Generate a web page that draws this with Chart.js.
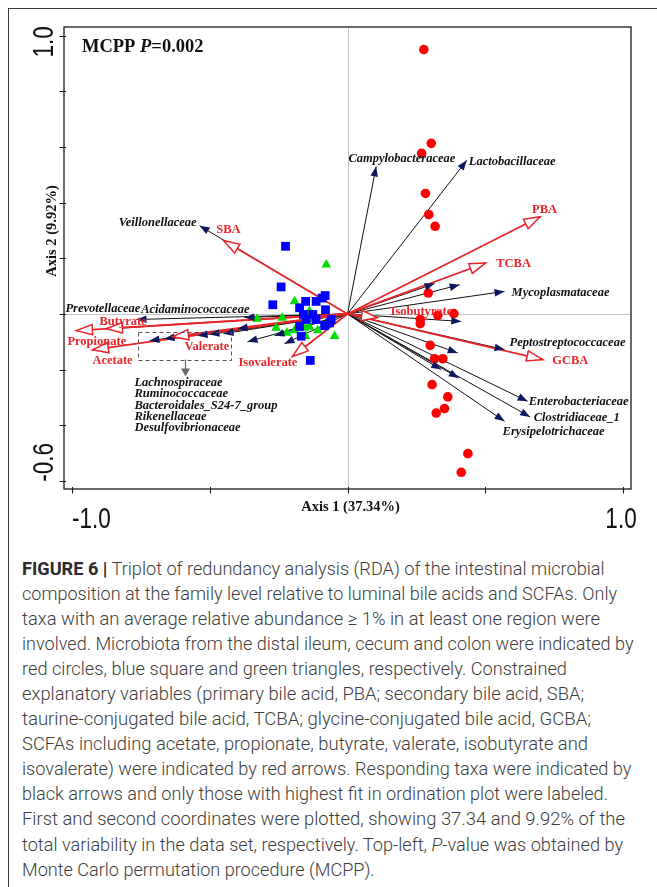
<!DOCTYPE html>
<html><head><meta charset="utf-8">
<script src="https://cdn.jsdelivr.net/npm/chart.js@4.4.1/dist/chart.umd.min.js"></script>
<style>
html,body{margin:0;padding:0;background:#fff;}
body{width:657px;height:887px;position:relative;overflow:hidden;}
#frame{position:absolute;left:8px;top:8px;right:-2px;bottom:-2px;border-left:1px solid #3a3a3a;border-top:1px solid #3a3a3a;}
#wrap{position:absolute;left:0;top:0;width:657px;height:540px;}
#caption{position:absolute;left:22px;top:555.5px;font-family:Roboto,'Liberation Sans',Arial,sans-serif;font-weight:300;font-size:18px;color:#3d3d3d;}
#caption .ln{height:25.1px;line-height:25.1px;white-space:nowrap;}
#caption .ln span{display:inline-block;transform-origin:0 50%;}
#caption b{font-weight:700;color:#2a2a2a;}
</style></head>
<body>
<div id="frame"></div>
<div id="wrap"><canvas id="c" width="657" height="540"></canvas></div>
<div id="caption">
<div class="ln" data-r="604.6"><span><b>FIGURE 6 |</b> Triplot of redundancy analysis (RDA) of the intestinal microbial</span></div>
<div class="ln" data-r="617"><span>composition at the family level relative to luminal bile acids and SCFAs. Only</span></div>
<div class="ln" data-r="600"><span>taxa with an average relative abundance ≥ 1% in at least one region were</span></div>
<div class="ln" data-r="633.5"><span>involved. Microbiota from the distal ileum, cecum and colon were indicated by</span></div>
<div class="ln" data-r="567"><span>red circles, blue square and green triangles, respectively. Constrained</span></div>
<div class="ln" data-r="584"><span>explanatory variables (primary bile acid, PBA; secondary bile acid, SBA;</span></div>
<div class="ln" data-r="591"><span>taurine-conjugated bile acid, TCBA; glycine-conjugated bile acid, GCBA;</span></div>
<div class="ln" data-r="588"><span>SCFAs including acetate, propionate, butyrate, valerate, isobutyrate and</span></div>
<div class="ln" data-r="631.5"><span>isovalerate) were indicated by red arrows. Responding taxa were indicated by</span></div>
<div class="ln" data-r="608"><span>black arrows and only those with highest fit in ordination plot were labeled.</span></div>
<div class="ln" data-r="625"><span>First and second coordinates were plotted, showing 37.34 and 9.92% of the</span></div>
<div class="ln" data-r="623"><span>total variability in the data set, respectively. Top-left, <i>P</i>-value was obtained by</span></div>
<div class="ln" data-r="374.7"><span>Monte Carlo permutation procedure (MCPP).</span></div>
</div>
<script>
// ---------------- DATA ----------------
// Samples (Axis 1, Axis 2)
const ileumPoints = [[0.277,0.950],[0.304,0.613],[0.269,0.577],[0.283,0.433],[0.295,0.357],[0.318,0.315],
  [0.293,0.075],[0.328,-0.005],[0.386,0.001],[0.264,-0.020],[0.264,-0.035],[0.300,-0.113],[0.316,-0.161],
  [0.346,-0.161],[0.307,-0.254],[0.364,-0.298],[0.352,-0.340],[0.322,-0.356],[0.437,-0.502],[0.413,-0.569]];
const cecumPoints = [[-0.225,0.243],[-0.241,0.097],[-0.271,0.033],[-0.152,0.045],[-0.114,0.045],[-0.092,0.057],
  [-0.081,0.066],[-0.080,0.015],[-0.174,0.022],[-0.160,-0.002],[-0.126,-0.002],[-0.114,-0.020],[-0.150,-0.020],
  [-0.065,-0.032],[-0.083,-0.042],[-0.059,-0.020],[-0.174,-0.045],[-0.168,-0.080],[-0.135,-0.167]];
const colonPoints = [[-0.077,0.177],[-0.192,0.045],[-0.328,-0.018],[-0.237,-0.014],[-0.150,-0.003],[-0.132,-0.020],
  [-0.138,0.009],[-0.259,-0.050],[-0.220,-0.068],[-0.192,-0.059],[-0.156,-0.050],[-0.138,-0.047],[-0.108,-0.059],
  [-0.152,-0.080],[-0.047,-0.080]];

// Explanatory variables (red arrows)
const envNames = ['PBA','TCBA','GCBA','Isobutyrate','SBA','Butyrate','Propionate','Acetate','Valerate','Isovalerate'];
const envAxis1 = [0.699, 0.501, 0.709, 0.109, -0.450, -0.875, -0.984, -0.926, -0.635, -0.200];
const envAxis2 = [0.349, 0.183, -0.164, -0.013, 0.264, -0.053, -0.060, -0.129, -0.082, -0.153];

// Responding taxa (black arrows); '' = not labeled individually
const taxaNames = ['Campylobacteraceae','Lactobacillaceae','Mycoplasmataceae','Peptostreptococcaceae',
  'Enterobacteriaceae','Clostridiaceae_1','Erysipelotrichaceae','Veillonellaceae','Prevotellaceae','Acidaminococcaceae',
  '','','','','','','','','','','','','','',''];
const taxaAxis1 = [0.104, 0.433, 0.570, 0.570, 0.654, 0.663, 0.570, -0.537, -0.766, -0.374,
  0.316, 0.407, 0.413, 0.400, 0.340, 0.404, -0.719, -0.664, -0.544, -0.501, -0.450, -0.399, -0.363, -0.265, -0.229];
const taxaAxis2 = [0.530, 0.552, 0.081, -0.128, -0.314, -0.370, -0.386, 0.317, -0.020, -0.013,
  0.109, 0.105, -0.027, -0.140, -0.200, -0.230, -0.096, -0.089, -0.078, -0.074, -0.071, -0.053, -0.100, -0.078, -0.107];
// Taxa whose arrows fall inside the dashed box
const groupedTaxa = ['Lachnospiraceae','Ruminococcaceae','Bacteroidales_S24-7_group','Rikenellaceae','Desulfovibrionaceae'];

// Axis ticks and labels
const xTickValues = [-1, -0.5, 0, 0.5, 1];
const yTickValues = [1.0, 0.8, 0.6, 0.4, 0.2, 0, -0.2, -0.4, -0.6];
const xEndLabels = ['-1.0', '1.0'];
const yEndLabels = ['1.0', '-0.6'];
const xTitle = 'Axis 1 (37.34%)';
const yTitle = 'Axis 2 (9.92%)';

// ---------------- LAYOUT / STYLE ----------------
const RED = '#e8262a', NAVY = '#0c1760';
const SERIF = "'Liberation Serif','Times New Roman',serif";
// label offsets (px) from arrow tips
const labelLayout = {
  Campylobacteraceae:{dx:-27.7,dy:-7.4,align:'left'}, Lactobacillaceae:{dx:2,dy:1,align:'left'},
  Mycoplasmataceae:{dx:7,dy:1,align:'left'}, Peptostreptococcaceae:{dx:5,dy:-6.7,align:'left'},
  Enterobacteriaceae:{dx:1,dy:0.6,align:'left'}, Clostridiaceae_1:{dx:3.5,dy:0.7,align:'left'},
  Erysipelotrichaceae:{dx:-2,dy:10,align:'left'}, Veillonellaceae:{dx:-3,dy:-2.7,align:'right'},
  Prevotellaceae:{dx:-71,dy:-10.7,align:'left'}, Acidaminococcaceae:{dx:5,dy:-7.3,align:'right'},
  PBA:{dx:-8,dy:-7.3,align:'left'}, TCBA:{dx:10.7,dy:0.7,align:'left'}, GCBA:{dx:9.4,dy:1,align:'left'},
  Isobutyrate:{dx:13,dy:-5.5,align:'left'}, SBA:{dx:-7.3,dy:-10.7,align:'left'},
  Butyrate:{dx:-7,dy:-7.3,align:'left'}, Propionate:{dx:-9,dy:10.7,align:'left'},
  Acetate:{dx:0,dy:11,align:'left'}, Valerate:{dx:12,dy:9.7,align:'left'}, Isovalerate:{dx:-54,dy:6,align:'left'}
};
// dashed group box (data units)
const groupBox = {x1:-0.759, x2:-0.421, y1:-0.064, y2:-0.164, arrowTo:-0.225};

// ---------------- DATASETS ----------------
const toXY = arr => arr.map(p => ({x:p[0], y:p[1]}));
const datasets = [
  {label:'Distal ileum', data:toXY(ileumPoints), pointStyle:'circle', pointRadius:4.8, backgroundColor:'#ff0000', borderWidth:0, order:0},
  {label:'Cecum', data:toXY(cecumPoints), pointStyle:'rect', pointRadius:6.2, backgroundColor:'#0000ff', borderWidth:0, order:0},
  {label:'Colon', data:toXY(colonPoints), pointStyle:'triangle', pointRadius:5.7, backgroundColor:'#00dd00', borderWidth:0, order:0}
];
taxaNames.forEach((n, i) => datasets.push({
  label: n, arrowKind:'taxon', showLine:true, pointRadius:0, borderColor:'#111', borderWidth:1, order:2,
  data:[{x:0,y:0},{x:taxaAxis1[i], y:taxaAxis2[i]}]
}));
envNames.forEach((n, i) => datasets.push({
  label: n, arrowKind:'env', showLine:true, pointRadius:0, borderColor:RED, borderWidth:1.8, order:1,
  data:[{x:0,y:0},{x:envAxis1[i], y:envAxis2[i]}]
}));

function condensedText(ctx, text, x, y, rot, align, sx){
  ctx.save(); ctx.translate(x, y); ctx.rotate(rot); ctx.scale(sx, 1);
  ctx.textAlign = align; ctx.textBaseline = 'alphabetic'; ctx.fillText(text, 0, 0); ctx.restore();
}

const decor = {
  id:'decor',
  beforeDatasetsDraw(chart){
    const {ctx, chartArea:a, scales:{x, y}} = chart;
    ctx.save();
    ctx.strokeStyle = '#c6c6c6'; ctx.lineWidth = 1;
    const x0 = Math.round(x.getPixelForValue(0)) + 0.5, y0 = Math.round(y.getPixelForValue(0)) + 0.5;
    ctx.beginPath(); ctx.moveTo(x0, a.top); ctx.lineTo(x0, a.bottom); ctx.moveTo(a.left, y0); ctx.lineTo(a.right, y0); ctx.stroke();
    ctx.restore();
  },
  afterDatasetsDraw(chart){
    const {ctx, chartArea:a, scales:{x, y}} = chart;
    ctx.save();
    // arrow heads
    chart.data.datasets.forEach((ds, i) => {
      if (!ds.arrowKind) return;
      const m = chart.getDatasetMeta(i); const p0 = m.data[0], p1 = m.data[1];
      const ang = Math.atan2(p1.y - p0.y, p1.x - p0.x);
      ctx.save(); ctx.translate(p1.x, p1.y); ctx.rotate(ang); ctx.beginPath();
      if (ds.arrowKind === 'env') {
        ctx.moveTo(0,0); ctx.lineTo(-16,-5.2); ctx.lineTo(-16,5.2); ctx.closePath();
        ctx.fillStyle = '#fff'; ctx.fill(); ctx.strokeStyle = RED; ctx.lineWidth = 1.5; ctx.stroke();
      } else {
        ctx.moveTo(0,0); ctx.lineTo(-10,-3.8); ctx.lineTo(-10,3.8); ctx.closePath();
        ctx.fillStyle = NAVY; ctx.fill();
      }
      ctx.restore();
    });
    // labels
    ctx.textBaseline = 'middle';
    chart.data.datasets.forEach((ds, i) => {
      if (!ds.arrowKind || !ds.label || !labelLayout[ds.label]) return;
      const m = chart.getDatasetMeta(i); const p1 = m.data[1]; const L = labelLayout[ds.label];
      if (ds.arrowKind === 'env') { ctx.font = 'bold 12.5px ' + SERIF; ctx.fillStyle = RED; }
      else { ctx.font = 'italic bold 12.5px ' + SERIF; ctx.fillStyle = '#111'; }
      ctx.textAlign = L.align; ctx.fillText(ds.label, p1.x + L.dx, p1.y + L.dy);
    });
    // dashed group box
    const bx1 = x.getPixelForValue(groupBox.x1), bx2 = x.getPixelForValue(groupBox.x2);
    const by1 = y.getPixelForValue(groupBox.y1), by2 = y.getPixelForValue(groupBox.y2);
    ctx.strokeStyle = '#555'; ctx.lineWidth = 1; ctx.setLineDash([4,3]);
    ctx.strokeRect(Math.round(bx1)+0.5, Math.round(by1)+0.5, Math.round(bx2-bx1), Math.round(by2-by1));
    ctx.setLineDash([]);
    const bc = Math.round((bx1 + bx2) / 2) + 0.5, ah = y.getPixelForValue(groupBox.arrowTo);
    ctx.strokeStyle = '#666'; ctx.lineWidth = 1.2;
    ctx.beginPath(); ctx.moveTo(bc, by2); ctx.lineTo(bc, ah - 6); ctx.stroke();
    ctx.fillStyle = '#666'; ctx.beginPath(); ctx.moveTo(bc - 4.5, ah - 8); ctx.lineTo(bc + 4.5, ah - 8); ctx.lineTo(bc, ah); ctx.closePath(); ctx.fill();
    ctx.font = 'italic bold 12.5px ' + SERIF; ctx.fillStyle = '#111'; ctx.textAlign = 'left';
    groupedTaxa.forEach((n, k) => ctx.fillText(n, bx1 - 4, ah + 6.3 + k * 11.25));
    // plot box
    ctx.strokeStyle = '#1a1a1a'; ctx.lineWidth = 1.3;
    ctx.strokeRect(a.left, a.top, a.right - a.left, a.bottom - a.top);
    // ticks
    ctx.lineWidth = 1.1; ctx.beginPath();
    xTickValues.forEach(v => { const px = Math.round(x.getPixelForValue(v)) + 0.5; ctx.moveTo(px, a.bottom - 2); ctx.lineTo(px, a.bottom + 4.5); });
    yTickValues.forEach(v => { const py = Math.round(y.getPixelForValue(v)) + 0.5; ctx.moveTo(a.left - 4.5, py); ctx.lineTo(a.left + 2, py); });
    ctx.stroke();
    // end tick labels (condensed sans)
    ctx.fillStyle = '#111'; ctx.font = "30px 'Liberation Sans',Arial,sans-serif";
    condensedText(ctx, xEndLabels[0], x.getPixelForValue(-1), 528, 0, 'left', 0.75);
    condensedText(ctx, xEndLabels[1], x.getPixelForValue(1) - 2, 528, 0, 'center', 0.75);
    condensedText(ctx, yEndLabels[0], 53, y.getPixelForValue(1.0) + 6.3, -Math.PI/2, 'center', 0.75);
    condensedText(ctx, yEndLabels[1], 53, y.getPixelForValue(-0.6) - 18.5, -Math.PI/2, 'center', 0.75);
    // axis titles
    ctx.font = 'bold 14.5px ' + SERIF; ctx.textAlign = 'center'; ctx.textBaseline = 'middle';
    ctx.fillText(xTitle, x.getPixelForValue(0) + 3, 507);
    ctx.save(); ctx.translate(52.5, 231); ctx.rotate(-Math.PI/2); ctx.fillText(yTitle, 0, 0); ctx.restore();
    // MCPP annotation
    ctx.textAlign = 'left'; ctx.textBaseline = 'alphabetic';
    let tx = 82; const ty = 52;
    ctx.font = 'bold 18.5px ' + SERIF; ctx.fillText('MCPP ', tx, ty); tx += ctx.measureText('MCPP ').width;
    ctx.font = 'italic bold 18.5px ' + SERIF; ctx.fillText('P', tx, ty); tx += ctx.measureText('P').width;
    ctx.font = 'bold 18.5px ' + SERIF; ctx.fillText('=0.002', tx, ty);
    ctx.restore();
  }
};

new Chart(document.getElementById('c'), {
  type:'scatter',
  data:{datasets},
  options:{
    responsive:false, animation:false, events:[],
    layout:{padding:{left:64, top:27, right:26, bottom:51}},
    plugins:{legend:{display:false}, tooltip:{enabled:false}},
    scales:{
      x:{type:'linear', min:-1.029, max:1.029, display:false},
      y:{type:'linear', min:-0.629, max:1.031, display:false}
    }
  },
  plugins:[decor]
});

// fit caption lines to their measured widths
document.querySelectorAll('#caption .ln').forEach(el => {
  const sp = el.firstElementChild; const target = parseFloat(el.dataset.r) - 22;
  const w = sp.getBoundingClientRect().width;
  if (w > 0) sp.style.transform = 'scaleX(' + (target / w).toFixed(4) + ')';
});
</script>
</body></html>
